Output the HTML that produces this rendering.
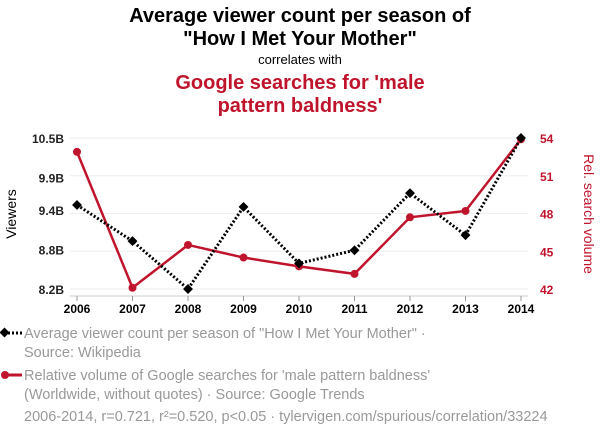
<!DOCTYPE html>
<html><head><meta charset="utf-8"><style>
body{margin:0;background:#fff;font-family:"Liberation Sans",sans-serif}
svg text{font-family:"Liberation Sans",sans-serif}
</style></head><body>
<svg id="c" width="600" height="436" viewBox="0 0 600 436">
<text x="300" y="22" text-anchor="middle" font-size="20" font-weight="bold" fill="#000">Average viewer count per season of</text>
<text x="300" y="45" text-anchor="middle" font-size="20" font-weight="bold" fill="#000">"How I Met Your Mother"</text>
<text x="300" y="64" text-anchor="middle" font-size="13" fill="#000">correlates with</text>
<text x="300" y="89" text-anchor="middle" font-size="20" font-weight="bold" fill="#c0142c">Google searches for 'male</text>
<text x="300" y="112" text-anchor="middle" font-size="20" font-weight="bold" fill="#c0142c">pattern baldness'</text>
<text transform="translate(16,214) rotate(-90)" text-anchor="middle" font-size="14" fill="#000">Viewers</text>
<text transform="translate(584,214) rotate(90)" text-anchor="middle" font-size="14" fill="#c0142c">Rel. search volume</text>
<g id="grid"></g><g id="axes"></g><g id="series"></g>
<g>
<line x1="4" y1="333" x2="22" y2="333" stroke="#000" stroke-width="3" stroke-dasharray="2,2"/>
<rect x="1" y="329" width="7" height="7" transform="rotate(45 4.5 332.5)" fill="#000"/>
<text x="24" y="338" font-size="14.5" fill="#999">Average viewer count per season of "How I Met Your Mother" ·</text>
<text x="24" y="357" font-size="14.5" fill="#999">Source: Wikipedia</text>
<line x1="4" y1="375" x2="22" y2="375" stroke="#c0142c" stroke-width="3"/>
<circle cx="5" cy="375" r="4" fill="#c0142c"/>
<text x="24" y="380" font-size="14.5" fill="#999">Relative volume of Google searches for 'male pattern baldness'</text>
<text x="24" y="399" font-size="14.5" fill="#999">(Worldwide, without quotes) · Source: Google Trends</text>
<text x="24" y="421" font-size="14.5" fill="#999">2006-2014, r=0.721, r²=0.520, p&lt;0.05 · tylervigen.com/spurious/correlation/33224</text>
</g>
</svg>
<script>
const years=[2006,2007,2008,2009,2010,2011,2012,2013,2014];
const viewers=[9.48,8.93,8.2,9.45,8.59,8.79,9.66,9.02,10.5];
const searches=[52.9,42.1,45.5,44.5,43.8,43.2,47.7,48.2,53.9];
const leftTicks=[8.2,8.8,9.4,9.9,10.5];
const leftLabels=["8.2B","8.8B","9.4B","9.9B","10.5B"];
const rightTicks=[42,45,48,51,54];
const NS="http://www.w3.org/2000/svg";
const X=y=>77+(y-2006)*(521-77)/8;
const YL=v=>289-(v-8.2)*(151/2.3);
const YR=v=>289-(v-42)*(151/12);
function mk(t,a,p){const e=document.createElementNS(NS,t);for(const k in a)e.setAttribute(k,a[k]);p.appendChild(e);return e;}
const grid=document.getElementById('grid'),axes=document.getElementById('axes'),ser=document.getElementById('series');
rightTicks.forEach(v=>{const l=mk('line',{x1:70,x2:528,y1:YR(v),y2:YR(v),stroke:'#eee'},grid);


const t=mk('text',{x:540,y:YR(v)+5,'font-size':12,'font-weight':'bold',fill:'#c0142c'},axes);t.textContent=v;

});
const ax=mk('line',{x1:70,x2:528,y1:296,y2:296,stroke:'#ccc'},axes);


leftTicks.forEach((v,i)=>{const t=mk('text',{x:64,y:YL(v)+5,'font-size':12,'font-weight':'bold',fill:'#222','text-anchor':'end'},axes);t.textContent=leftLabels[i];

});
years.forEach(y=>{const t=mk('text',{x:X(y),y:313,'font-size':12,'font-weight':'bold','text-anchor':'middle'},axes);t.textContent=y;


const tk=mk('line',{x1:X(y),x2:X(y),y1:296,y2:301,stroke:'#999'},axes);

});
const rl=mk('polyline',{points:years.map((y,i)=>X(y)+','+YR(searches[i])).join(' '),fill:'none',stroke:'#c0142c','stroke-width':2.5},ser);


const bl=mk('polyline',{points:years.map((y,i)=>X(y)+','+YL(viewers[i])).join(' '),fill:'none',stroke:'#000','stroke-width':3,'stroke-dasharray':'2,2'},ser);


years.forEach((y,i)=>{const c=mk('circle',{cx:X(y),cy:YR(searches[i]),r:4,fill:'#c0142c'},ser);


const cx=X(y),cy=YL(viewers[i]);
const r=mk('rect',{x:cx-3.5,y:cy-3.5,width:7,height:7,fill:'#000',transform:`rotate(45 ${cx} ${cy})`},ser);

});
</script>
</body></html>
